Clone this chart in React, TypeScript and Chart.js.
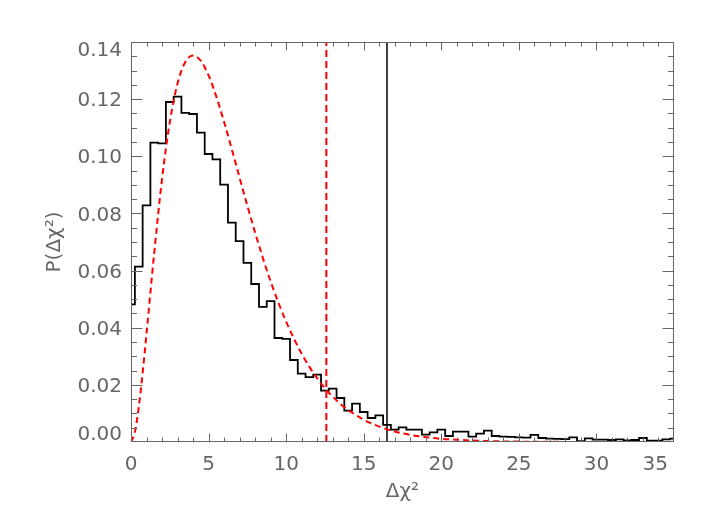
import React, { useEffect, useRef } from 'react';
import { Chart, registerables } from 'chart.js';

Chart.register(...registerables);

// Histogram of simulated delta-chi^2 (bin centres and normalised counts)
const HIST_X = [
  0, 0.5, 1, 1.5, 2, 2.5, 3, 3.5, 4, 4.5, 5, 5.5, 6, 6.5, 7, 7.5, 8, 8.5, 9, 9.5,
  10, 10.5, 11, 11.5, 12, 12.5, 13, 13.5, 14, 14.5, 15, 15.5, 16, 16.5, 17, 17.5,
  18, 18.5, 19, 19.5, 20, 20.5, 21, 21.5, 22, 22.5, 23, 23.5, 24, 24.5, 25, 25.5,
  26, 26.5, 27, 27.5, 28, 28.5, 29, 29.5, 30, 30.5, 31, 31.5, 32, 32.5, 33, 33.5,
  34, 34.5, 35,
];
const HIST_Y = [
  0.0482, 0.0614, 0.0828, 0.1048, 0.1045, 0.119, 0.1209, 0.1152, 0.1148, 0.1083,
  0.1008, 0.0989, 0.0901, 0.0768, 0.0703, 0.0627, 0.0553, 0.0473, 0.0493, 0.0364,
  0.0361, 0.0287, 0.0239, 0.0227, 0.0236, 0.018, 0.0187, 0.0154, 0.011, 0.0134,
  0.0105, 0.0084, 0.0093, 0.006, 0.0043, 0.0051, 0.0043, 0.0043, 0.0026, 0.0034,
  0.0043, 0.0021, 0.0036, 0.0036, 0.0019, 0.0029, 0.004, 0.0021, 0.0019, 0.0018,
  0.0016, 0.0015, 0.0025, 0.0014, 0.0012, 0.0011, 0.001, 0.0016, 0.0003, 0.0013,
  0.0008, 0.0008, 0.0007, 0.0009, 0.0006, 0.0007, 0.0014, 0.0005, 0.0005, 0.0009,
  0.0012,
];

// Theoretical distribution (red dashed curve)
const CURVE_X = [
  0, 0.25, 0.5, 0.75, 1, 1.5, 2, 2.5, 3, 3.5, 4, 4.5, 5, 5.5, 6, 6.5, 7, 7.5, 8,
  8.5, 9, 9.5, 10, 10.5, 11, 11.5, 12, 12.5, 13, 13.5, 14, 15, 16, 17, 18, 19, 20,
  21, 22, 24, 26, 28, 30,
];
const CURVE_Y = [
  0, 0.0035, 0.0122, 0.0242, 0.0379, 0.0664, 0.092, 0.1119, 0.1255, 0.133, 0.1353,
  0.1334, 0.1283, 0.1209, 0.112, 0.1024, 0.0925, 0.0827, 0.0733, 0.0644, 0.0562,
  0.0488, 0.0421, 0.0362, 0.0309, 0.0263, 0.0223, 0.0188, 0.0159, 0.0133, 0.0112,
  0.0078, 0.0054, 0.0037, 0.0025, 0.0017, 0.0011, 0.0008, 0.0005, 0.0002, 0.0001,
  0.00004, 0.00002,
];

const CHI2_95 = 12.59; // red dashed vertical line
const CHI2_OBS = 16.5; // black vertical line

const X_TICKS = [0, 5, 10, 15, 20, 25, 30, 35];
const Y_TICKS = [0, 0.02, 0.04, 0.06, 0.08, 0.1, 0.12, 0.14];
const X_MIN = 0;
const X_MAX = 35;
const Y_MIN = 0;
const Y_MAX = 0.14;
const X_TITLE = 'Δχ²';
const Y_TITLE = 'P(Δχ²)';

const FONT = '"DejaVu Sans", sans-serif';
const GREY = '#666666';

const idlAxes = {
  id: 'idlAxes',
  afterDatasetsDraw(chart: any) {
    const { ctx, chartArea: a } = chart;
    const xs = chart.scales.x;
    const ys = chart.scales.y;
    const L = Math.floor(a.left) + 0.5;
    const R = Math.round(a.right) - 0.5;
    const T = Math.floor(a.top) + 0.5;
    const B = Math.round(a.bottom) - 0.5;
    const clamp = (v: number, lo: number, hi: number) => Math.min(Math.max(v, lo), hi);
    ctx.save();
    ctx.strokeStyle = GREY;
    ctx.lineWidth = 1;
    ctx.setLineDash([]);
    ctx.beginPath();
    ctx.rect(L, T, R - L, B - T);
    ctx.stroke();

    // x ticks (major every 5, minor every 1), bottom and top
    ctx.beginPath();
    for (let v = X_MIN; v <= X_MAX + 1e-9; v += 1) {
      const px = clamp(Math.round(xs.getPixelForValue(v)) + 0.5, L, R);
      const len = v % 5 === 0 ? 8 : 4;
      ctx.moveTo(px, B);
      ctx.lineTo(px, B - len);
      ctx.moveTo(px, T);
      ctx.lineTo(px, T + len);
    }
    // y ticks (major every 0.02, minor every 0.005), left and right
    for (let i = 0; i <= 28; i++) {
      const v = Y_MIN + i * 0.005;
      const py = clamp(Math.round(ys.getPixelForValue(v)) + 0.5, T, B);
      const len = i % 4 === 0 ? 11 : 5.5;
      ctx.moveTo(L, py);
      ctx.lineTo(L + len, py);
      ctx.moveTo(R, py);
      ctx.lineTo(R - len, py);
    }
    ctx.stroke();

    // tick labels
    ctx.fillStyle = GREY;
    ctx.font = `20px ${FONT}`;
    ctx.textBaseline = 'middle';
    X_TICKS.forEach((v, i) => {
      const px = xs.getPixelForValue(v);
      if (i === X_TICKS.length - 1) {
        ctx.textAlign = 'right';
        ctx.fillText(String(v), a.right - 6, a.bottom + 23);
      } else {
        ctx.textAlign = 'center';
        ctx.fillText(String(v), px, a.bottom + 23);
      }
    });
    ctx.textAlign = 'right';
    Y_TICKS.forEach((v) => {
      const py = ys.getPixelForValue(v);
      const yy = clamp(py + 2, a.top + 8.5, a.bottom - 7);
      ctx.fillText(v.toFixed(2), a.left - 9, yy);
    });
    ctx.restore();
  },
};

export default function App() {
  const ref = useRef<HTMLCanvasElement | null>(null);

  useEffect(() => {
    if (!ref.current) return;
    const chart = new Chart(ref.current, {
      type: 'line',
      data: {
        datasets: [
          {
            data: CURVE_X.map((x, i) => ({ x, y: CURVE_Y[i] })),
            borderColor: '#ff0000',
            borderWidth: 2,
            borderDash: [6, 4],
            cubicInterpolationMode: 'monotone',
            pointRadius: 0,
            fill: false,
          },
          {
            data: [
              { x: CHI2_95, y: Y_MIN },
              { x: CHI2_95, y: Y_MAX },
            ],
            borderColor: '#ff0000',
            borderWidth: 2,
            borderDash: [7, 4],
            pointRadius: 0,
            fill: false,
          },
          {
            data: HIST_X.map((x, i) => ({ x, y: HIST_Y[i] })),
            borderColor: '#000000',
            borderWidth: 1.8,
            stepped: 'middle',
            pointRadius: 0,
            fill: false,
          },
          {
            data: [
              { x: CHI2_OBS, y: Y_MIN },
              { x: CHI2_OBS, y: Y_MAX },
            ],
            borderColor: '#000000',
            borderWidth: 1.5,
            pointRadius: 0,
            fill: false,
          },
        ] as any,
      },
      options: {
        animation: false,
        responsive: false,
        devicePixelRatio: 1,
        layout: { padding: { top: 42, right: 40, left: 0, bottom: 0 } },
        plugins: { legend: { display: false }, tooltip: { enabled: false } },
        scales: {
          x: {
            type: 'linear',
            min: X_MIN,
            max: X_MAX,
            grid: { display: false },
            border: { display: false },
            ticks: { display: false },
            title: {
              display: true,
              text: X_TITLE,
              color: GREY,
              font: { family: FONT, size: 20, lineHeight: 1.2 },
              padding: { top: 0, bottom: 22 },
            },
            afterFit: (s: any) => {
              s.height = 84;
            },
          },
          y: {
            type: 'linear',
            min: Y_MIN,
            max: Y_MAX,
            grid: { display: false },
            border: { display: false },
            ticks: { display: false },
            title: {
              display: true,
              text: Y_TITLE,
              color: GREY,
              font: { family: FONT, size: 20, lineHeight: 1.2 },
              padding: { top: 43, bottom: 0 },
            },
            afterFit: (s: any) => {
              s.width = 131;
            },
          },
        },
      } as any,
      plugins: [idlAxes],
    });
    return () => chart.destroy();
  }, []);

  return (
    <div style={{ position: 'absolute', left: 0, top: 0, width: 714, height: 526, background: '#fff' }}>
      <canvas ref={ref} width={714} height={526} style={{ display: 'block' }} />
    </div>
  );
}
